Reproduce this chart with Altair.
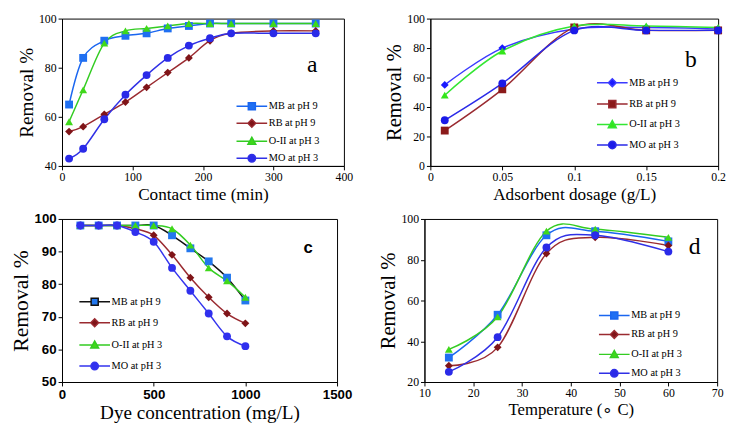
import altair as alt
import pandas as pd

series = ["MB at pH 9", "RB at pH 9", "O-II at pH 3", "MO at pH 3"]

# Panel a: contact time
time_x = [10, 30, 60, 90, 120, 150, 180, 210, 240, 300, 360]
time_mb = [65, 84, 91, 93, 94, 96, 97, 98, 98, 98, 98]
time_rb = [54, 56, 61, 66, 72, 78, 84, 91, 94, 95, 95]
time_o2 = [58, 71, 90, 95, 96, 97, 98, 98, 98, 98, 98]
time_mo = [43, 47, 59, 69, 77, 84, 89, 92, 94, 94, 94]

# Panel b: adsorbent dosage
dose_x = [0.01, 0.05, 0.1, 0.15, 0.2]
dose_mb = [55, 80, 93, 94, 93]
dose_rb = [24, 52, 94, 92, 92]
dose_o2 = [48, 78, 95, 95, 94]
dose_mo = [31, 56, 92, 92, 92]

# Panel c: dye concentration
conc_x = [100, 200, 300, 400, 500, 600, 700, 800, 900, 1000]
conc_mb = [98, 98, 98, 98, 98, 95, 91, 87, 82, 75]
conc_rb = [98, 98, 98, 97, 95, 89, 82, 76, 71, 68]
conc_o2 = [98, 98, 98, 98, 98, 97, 92, 85, 81, 76]
conc_mo = [98, 98, 98, 96, 93, 85, 78, 71, 64, 61]

# Panel d: temperature
temp_x = [15, 25, 35, 45, 60]
temp_mb = [32, 53, 92, 94, 89]
temp_rb = [28, 37, 83, 91, 87]
temp_o2 = [36, 52, 94, 95, 91]
temp_mo = [25, 42, 86, 92, 84]

SERIF = "Liberation Serif"
SANS = "Liberation Sans"

# legend glyphs: line segment + marker (marker spans -1..1)
LEG_PATH = {
    "square": "M-3.9,0H-1M1,0H3.9M-0.9,-0.9H0.9V0.9H-0.9Z",
    "diamond": "M-3.9,0H-1M1,0H3.9M-1,0L0,-1L1,0L0,1Z",
    "triangle-up": "M-3.9,0H-0.55M0.55,0H3.9M-1,0.8L0,-1L1,0.8Z",
    "circle": "M-3.9,0H-1M1,0H3.9M-0.95,0A0.95,0.95,0,1,1,0.95,0A0.95,0.95,0,1,1,-0.95,0Z",
}


def make_panel(xvals, ys, shapes, mcolors, lcolors, xdom, xticks, ydom, yticks,
               xtitle, xfmt, letter, letter_xy, letter_font, letter_size, letter_weight,
               leg_xy, row_pad, w, h, tick_font, tick_weight, tick_size, xt_size, yt_size):
    rows = []
    for name, vals in zip(series, ys):
        for xv, yv in zip(xvals, vals):
            rows.append({"x": xv, "y": yv, "s": name})
    df = pd.DataFrame(rows)

    X = alt.X("x:Q", scale=alt.Scale(domain=xdom, nice=False, zero=False),
              axis=alt.Axis(values=xticks, title=xtitle, format=xfmt,
                            labelFont=tick_font, labelFontWeight=tick_weight, labelFontSize=tick_size,
                            titleFont=SERIF, titleFontWeight="normal", titleFontSize=xt_size,
                            labelFlush=False, titlePadding=3))
    Y = alt.Y("y:Q", scale=alt.Scale(domain=ydom, nice=False, zero=False),
              axis=alt.Axis(values=yticks, title="Removal %",
                            labelFont=tick_font, labelFontWeight=tick_weight, labelFontSize=tick_size,
                            titleFont=SERIF, titleFontWeight="normal", titleFontSize=yt_size,
                            titlePadding=2))
    base = alt.Chart(df)
    lines = base.mark_line(interpolate="cardinal", strokeWidth=1.5).encode(
        x=X, y=Y, detail="s:N",
        color=alt.Color("s:N", scale=alt.Scale(domain=series, range=lcolors), legend=None))
    pts = base.mark_point(filled=True, opacity=1, size=64).encode(
        x=X, y=Y,
        fill=alt.Fill("s:N", scale=alt.Scale(domain=series, range=mcolors), legend=None),
        shape=alt.Shape("s:N", scale=alt.Scale(domain=series, range=shapes), legend=None))
    leg = alt.Legend(title=None, orient="none", legendX=leg_xy[0], legendY=leg_xy[1],
                     labelFont=SERIF, labelFontSize=10.5, labelColor="black",
                     symbolSize=64, symbolStrokeWidth=1.5, rowPadding=row_pad,
                     symbolOffset=11, labelOffset=12, padding=0)
    legend_layer = base.transform_filter("false").mark_point(
        filled=True, opacity=1, size=64, strokeWidth=1.5).encode(
        x=X, y=Y,
        fill=alt.Fill("s:N", scale=alt.Scale(domain=series, range=mcolors), legend=leg),
        stroke=alt.Stroke("s:N", scale=alt.Scale(domain=series, range=lcolors), legend=leg),
        shape=alt.Shape("s:N", scale=alt.Scale(domain=series, range=[LEG_PATH[s] for s in shapes]),
                        legend=leg))
    txt = alt.Chart(pd.DataFrame({"x": [letter_xy[0]], "y": [letter_xy[1]], "t": [letter]})).mark_text(
        font=letter_font, fontSize=letter_size, fontWeight=letter_weight, color="black").encode(
        x=X, y=Y, text="t:N")
    return alt.layer(lines, pts, legend_layer, txt).resolve_scale(
        color="independent", fill="independent", stroke="independent", shape="independent"
    ).properties(width=w, height=h)


sh_a = ["square", "diamond", "triangle-up", "circle"]
sh_b = ["diamond", "square", "triangle-up", "circle"]

mc_a = ["#1f6ff2", "#7f1418", "#3fd81a", "#2a2ae8"]
lc_a = ["#1a66f0", "#9a2a30", "#33cc22", "#3030e6"]
mc_b = ["#1a1aff", "#8b1a1a", "#33e61a", "#1a1ae8"]
lc_b = ["#3a3aff", "#9a2a30", "#33e633", "#2a2ae8"]
mc_c = ["#2277ee", "#7f1418", "#3fd81a", "#3030ee"]
lc_c = ["#111111", "#9a2a30", "#33cc22", "#3434ee"]

pa = make_panel(time_x, [time_mb, time_rb, time_o2, time_mo], sh_a, mc_a, lc_a,
                [0, 400], [0, 100, 200, 300, 400], [40, 100], [40, 60, 80, 100],
                "Contact time (min)", "d", "a", [355, 81], SERIF, 24, "normal",
                [177, 84], 3.3, 287, 150, SERIF, "normal", 12, 17.5, 19.5)
pb = make_panel(dose_x, [dose_mb, dose_rb, dose_o2, dose_mo], sh_b, mc_b, lc_b,
                [0, 0.2], [0, 0.05, 0.1, 0.15, 0.2], [0, 100], [0, 20, 40, 60, 80, 100],
                "Adsorbent dosage (g/L)", "~g", "b", [0.181, 72], SERIF, 24, "normal",
                [169, 60], 6.8, 293, 150, SERIF, "normal", 12, 17.5, 21)
pc = make_panel(conc_x, [conc_mb, conc_rb, conc_o2, conc_mo], sh_a, mc_c, lc_c,
                [0, 1500], [0, 500, 1000, 1500], [50, 100], [50, 60, 70, 80, 90, 100],
                "Dye concentration (mg/L)", "d", "c", [1343, 91], SANS, 17, "bold",
                [17, 79], 7.5, 280, 166, SANS, "bold", 13.5, 19.5, 22)
pd_ = make_panel(temp_x, [temp_mb, temp_rb, temp_o2, temp_mo], sh_a, mc_a, lc_a,
                 [10, 70], [10, 20, 30, 40, 50, 60, 70], [20, 100], [20, 40, 60, 80, 100],
                 "Temperature (\u2218 C)", "d", "d", [65.4, 86], SERIF, 24, "normal",
                 [177, 93], 5.3, 298, 166, SERIF, "normal", 12, 17, 21)

chart = alt.vconcat(
    alt.hconcat(pa, pb, spacing=30),
    alt.hconcat(pc, pd_, spacing=25),
    spacing=8,
).properties(padding=0).configure(font=SERIF).configure_view(
    stroke="black", strokeWidth=1).configure_axis(
    grid=False, domainColor="black", tickColor="black", labelColor="black", titleColor="black",
    tickSize=4, titleFont=SERIF, titleFontWeight="normal",
    labelPadding=2, domainWidth=1
)

chart.save("out.html", embed_options={"renderer": "svg", "actions": False})
